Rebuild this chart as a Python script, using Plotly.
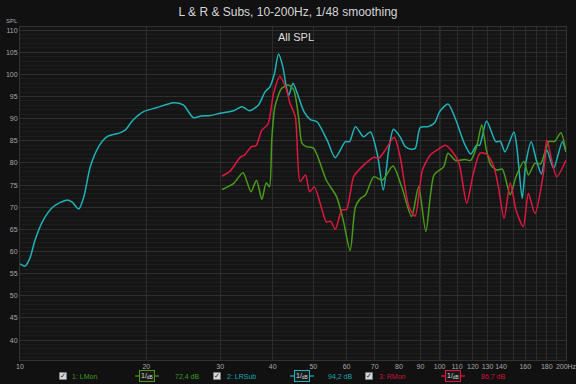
import plotly.graph_objects as go

# ---- data ----
lrsub_f = [10, 10.28, 10.56, 10.86, 11.36, 12.0, 12.9, 13.3, 13.8, 14.2, 14.7, 15.4, 16.1, 17.3, 17.8, 18.6, 19.7, 21.2, 23.2, 24.5, 25.9, 27.0, 28.4,
           30.0, 32.3, 33.8, 35.2, 37.0, 38.4, 39.4, 40.4, 41.3, 42.3, 43.1, 43.7, 44.7, 45.8, 47.5, 49.2, 51.0, 53.9, 56.4, 59.6, 61.0, 63.0, 65.9, 68.4,
           71.1, 73.4, 75.6, 77.6, 80.5, 82.8, 85.4, 87.5, 89.9, 93.8, 97.3, 100, 104.7, 109.3, 114.5, 118.6, 122.5, 124.5, 129.4, 136.1, 139.5, 143.1,
           150.3, 153.0, 157.3, 160.5, 165.3, 170.0, 174.8, 180.0, 186.8, 196.0, 200]
lrsub_db = [57.2, 56.7, 58.5, 62.6, 67.1, 70.1, 71.6, 71.2, 69.6, 72.4, 79.1, 83.7, 85.9, 86.8, 87.4, 89.7, 91.6, 92.5, 93.6, 93.1, 90.2, 90.6, 90.7,
            91.2, 91.8, 92.7, 91.8, 93.1, 96.1, 97.2, 100.2, 104.6, 101.7, 97.2, 95.3, 98.0, 95.7, 91.6, 89.8, 89.3, 85.2, 81.2, 84.8, 84.8, 88.2, 85.9, 87.0,
            81.8, 73.9, 82.9, 87.6, 85.9, 83.7, 83.1, 83.3, 88.0, 88.2, 89.1, 91.6, 93.3, 89.7, 84.4, 82.0, 84.0, 84.0, 89.5, 84.8, 84.9, 82.5,
            87.0, 82.9, 72.0, 80.0, 84.8, 80.6, 77.5, 82.9, 78.8, 84.8, 82.5]

lmon_f = [30.3, 32.3, 34.0, 35.5, 36.6, 37.7, 38.6, 39.3, 39.8, 40.5, 42.0, 43.6, 44.9, 46.1, 47.0, 48.1, 50.1, 53.7, 56.8, 58.9, 61.2, 63.0, 64.8,
          66.6, 69.7, 73.0, 77.4, 81.2, 85.7, 89.1, 92.7, 97.0, 102.2, 104.7, 109.3, 114.5, 118.6, 122.5, 126.0, 129.0, 132.4, 137.0, 141.0, 147.3,
          152.0, 158.8, 162.7, 168.6, 174.0, 182.0, 188.0, 194.5, 200]
lmon_db = [74.0, 75.4, 77.8, 73.5, 76.1, 71.8, 75.5, 74.6, 85.2, 92.7, 96.8, 97.6, 96.5, 90.4, 84.4, 83.7, 83.3, 76.1, 72.4, 67.1, 60.2, 70.1, 72.0,
           72.8, 76.9, 76.1, 79.3, 74.6, 67.9, 74.6, 64.5, 77.3, 79.1, 82.2, 80.5, 80.8, 80.6, 83.7, 88.6, 83.3, 79.5, 78.4, 78.6, 72.8,
           76.9, 80.3, 77.3, 79.9, 79.8, 84.8, 84.9, 86.8, 82.5]

rmon_f = [30.3, 31.7, 33.5, 34.3, 35.6, 36.5, 37.7, 39.0, 40.2, 41.6, 42.9, 44.0, 45.3, 46.5, 47.9, 49.0, 50.3, 51.9, 53.7, 55.0, 56.4, 58.5, 60.0,
          62.4, 65.9, 69.7, 71.5, 74.2, 77.9, 80.5, 84.5, 87.4, 91.0, 95.0, 98.5, 103.2, 106.5, 111.2, 116.0, 120.1, 124.8, 129.5, 134.7, 138.0,
          142.4, 147.3, 152.0, 158.2, 162.7, 168.6, 176.9, 180.0, 190.0, 200]
rmon_db = [77.0, 78.2, 81.3, 81.8, 83.7, 83.9, 87.4, 88.8, 95.7, 99.6, 97.2, 93.5, 90.4, 75.8, 77.3, 73.5, 74.6, 70.9, 66.7, 66.8, 65.0, 69.4, 69.5,
           76.9, 79.5, 81.3, 81.0, 82.9, 85.8, 81.4, 70.1, 68.0, 78.4, 81.8, 82.9, 84.0, 82.9, 79.9, 70.9, 77.3, 82.2, 82.0, 79.1, 74.6,
           67.5, 75.5, 69.4, 65.6, 73.1, 68.6, 78.0, 85.2, 76.9, 80.6]

x_tickvals = [10, 20, 30, 40, 50, 60, 70, 80, 90, 100, 110, 120, 130, 140, 150, 160, 170, 180, 190, 200]
x_ticktext = ["10", "20", "30", "40", "50", "60", "70", "80", "90", "100", "110", "120", "130", "140", " ", "160", " ", "180", " ", "200Hz"]

CYAN = "#1fb3b8"
GREEN = "#4a9a1c"
RED = "#e0173f"

# plot area in pixels
L, R, T, B = 20, 566, 27, 360
W, H = 576, 384


def px(x):
    return (x - L) / (R - L)


def py(y):
    return (B - y) / (B - T)


fig = go.Figure()
for f, d, c in [(lrsub_f, lrsub_db, CYAN), (lmon_f, lmon_db, GREEN), (rmon_f, rmon_db, RED)]:
    fig.add_trace(go.Scatter(x=f, y=d, mode="lines", line=dict(color=c, width=1.5, shape="spline", smoothing=0.7),
                             showlegend=False, hoverinfo="skip"))

fig.update_layout(
    width=W, height=H,
    margin=dict(l=L, r=W - R, t=T, b=H - B, autoexpand=False),
    paper_bgcolor="#111111",
    plot_bgcolor="#151515",
    font=dict(family="Liberation Sans, Arial, sans-serif", color="#cfcfcf"),
    title=dict(text="L &amp; R &amp; Subs, 10-200Hz, 1/48 smoothing", x=0.5, xanchor="center", y=1 - 12 / H, yanchor="middle",
               font=dict(size=12, color="#d6d6d6")),
)
fig.update_xaxes(type="log", range=[1, 2.30106], tickvals=x_tickvals, ticktext=x_ticktext, automargin=False, tickangle=0,
                 showgrid=True, gridcolor="#2c2c2c", gridwidth=1, zeroline=False, ticklabelstandoff=0,
                 ticklabeloverflow="allow",
                 tickfont=dict(size=7, color="#a8a8a8"), ticks="", showline=True, linecolor="#333333", mirror=True)
fig.update_yaxes(range=[35.5, 110.7], tick0=40, dtick=5, showgrid=True, gridcolor="#2e2e2e", gridwidth=1, zeroline=False,
                 automargin=False, ticklabelstandoff=0,
                 tickfont=dict(size=7, color="#a8a8a8"), ticks="", showline=True, linecolor="#333333", mirror=True,
                 minor=dict(dtick=1, showgrid=True, gridcolor="#1d1d1d", gridwidth=1))

# brighter 100 Hz line
fig.add_shape(type="line", xref="x", yref="paper", x0=100, x1=100, y0=0, y1=1, line=dict(color="#555555", width=1.2), layer="between")


def note(text, x, y, size, color, xanchor="center", **kw):
    return dict(text=text, x=px(x), y=py(y), xref="paper", yref="paper", showarrow=False,
                xanchor=xanchor, yanchor="middle", font=dict(size=size, color=color, **kw.pop("fontkw", {})), **kw)


ann = []
ann.append(note("SPL", 12, 21, 6, "#aaaaaa"))
ann.append(note("All SPL", 296, 37, 11, "#dddddd"))

LY = 376
items = [
    (63, "1: LMon", 70, 147, "72,4 dB", 187, GREEN, "#3f9a1e"),
    (217, "2: LRSub", 225, 302, "94,2 dB", 340, CYAN, "#1aa8b0"),
    (369, "3: RMon", 377, 453, "86,7 dB", 493, RED, "#cc1234"),
]
shapes = []
for cbx, name, nx, icx, val, vx, col, tcol in items:
    # checkbox
    shapes.append(dict(type="rect", xref="paper", yref="paper", x0=px(cbx - 3.5), x1=px(cbx + 3.5), y0=py(LY + 3.5), y1=py(LY - 3.5),
                       fillcolor="#d8d8d8", line=dict(color="#888888", width=0.5)))
    ann.append(note("✓", cbx, LY, 7, "#222222", fontkw=dict(family="DejaVu Sans")))
    ann.append(note(name, nx, LY, 7, tcol, xanchor="left"))
    # filter icon
    shapes.append(dict(type="line", xref="paper", yref="paper", x0=px(icx - 12), x1=px(icx + 12), y0=py(LY), y1=py(LY),
                       line=dict(color=col, width=1.2)))
    ann.append(note("1/<sub>dB</sub>", icx, LY, 7, "#dddddd", bgcolor="#1a1a1a", bordercolor=col, borderwidth=1, borderpad=1))
    ann.append(note(val, vx, LY, 7, tcol))

fig.update_layout(annotations=ann, shapes=fig.layout.shapes + tuple(shapes))
fig.write_html("out.html", config={"displayModeBar": False},
               post_script="document.body.style.margin='0';document.body.style.padding='0';document.body.style.background='#111111';")
